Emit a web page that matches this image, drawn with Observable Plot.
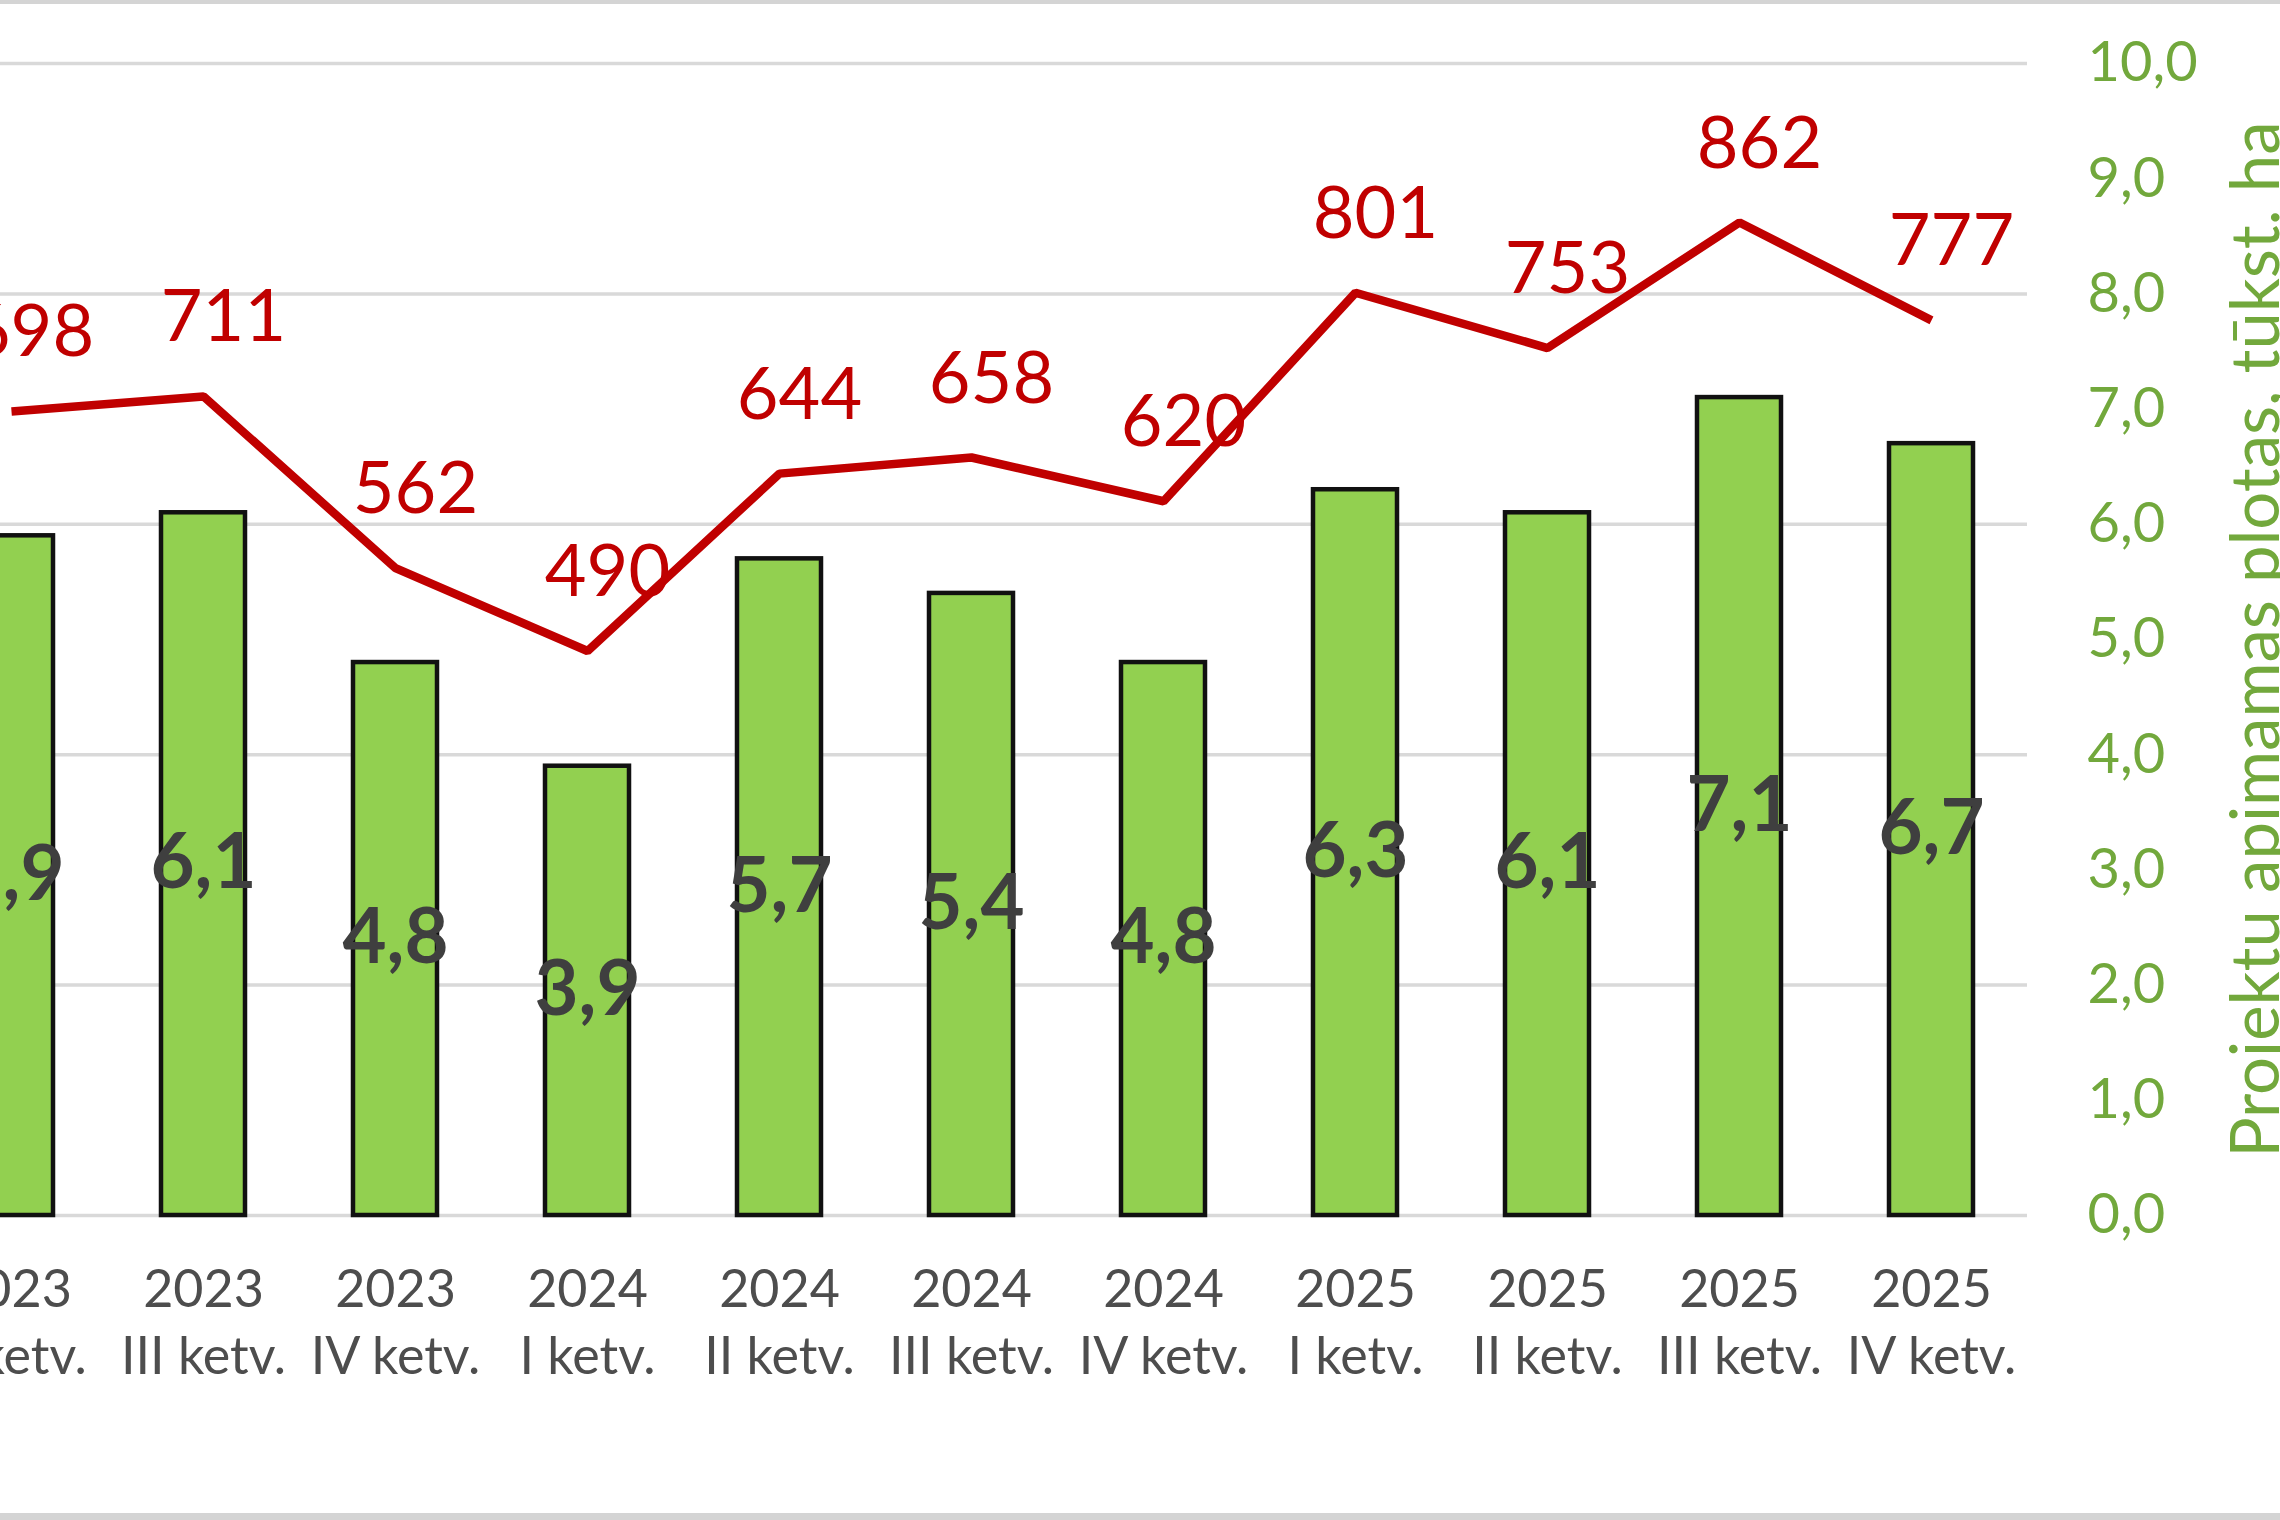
<!DOCTYPE html>
<html>
<head>
<meta charset="utf-8">
<script src="https://cdn.jsdelivr.net/npm/d3@7"></script>
<script src="https://cdn.jsdelivr.net/npm/@observablehq/plot@0.6"></script>
<style>
  html, body { margin: 0; padding: 0; background: #fff; }
  #chart {
    width: 2280px;
    border-top: 4px solid #d4d4d4;
    border-bottom: 7px solid #d4d4d4;
    overflow: hidden;
  }
  #chart svg { display: block; }
</style>
</head>
<body>
<div id="chart"></div>
<script>
// Quarterly projects: count (line, left scale 0–1000) and area in thousand ha (bars, right scale 0–10)
const years = ["2023", "2023", "2023", "2024", "2024", "2024", "2024", "2025", "2025", "2025", "2025"];
const quarters = ["II ketv.", "III ketv.", "IV ketv.", "I ketv.", "II ketv.", "III ketv.", "IV ketv.", "I ketv.", "II ketv.", "III ketv.", "IV ketv."];
const areaThousandHa = [5.9, 6.1, 4.8, 3.9, 5.7, 5.4, 4.8, 6.3, 6.1, 7.1, 6.7];
const projectCount = [698, 711, 562, 490, 644, 658, 620, 801, 753, 862, 777];
const areaTicks = [0, 1, 2, 3, 4, 5, 6, 7, 8, 9, 10];
const gridTicks = [0, 2, 4, 6, 8, 10];
const axisTitle = "Projektu apimamas plotas, tūkst. ha";

const rows = years.map((y, i) => ({
  period: `${y}\n${quarters[i]}`,
  area: areaThousandHa[i],
  count: projectCount[i]
}));

const comma = (v) => v.toFixed(1).replace(".", ",");
const font = "Lato, 'Open Sans', sans-serif";
const green = "#72a83c";
const red = "#c00000";

const chart = Plot.plot({
  width: 2280,
  height: 1509,
  marginTop: 59,
  marginBottom: 298,
  marginLeft: 0,
  marginRight: 253,
  style: { fontFamily: font, background: "#fff", overflow: "hidden" },
  x: {
    type: "band",
    domain: rows.map((d) => d.period),
    range: [-86, 2027],
    paddingInner: 0.563,
    paddingOuter: 0.28,
    axis: null
  },
  y: { domain: [0, 10], axis: null },
  marks: [
    Plot.gridY(gridTicks, { stroke: "#d9d9d9", strokeOpacity: 1, strokeWidth: 3.5 }),
    Plot.barY(rows, {
      x: "period",
      y: "area",
      fill: "#92d050",
      stroke: "#111",
      strokeWidth: 4.5
    }),
    Plot.text(rows, {
      x: "period",
      y: (d) => d.area / 2,
      text: (d) => comma(d.area),
      fill: "#3f3f3f",
      fontSize: 76,
      fontWeight: "bold"
    }),
    // project count drawn against the 0–1000 scale, which shares the 0–10 frame
    Plot.lineY(rows, {
      x: "period",
      y: (d) => d.count / 100,
      stroke: red,
      strokeWidth: 8.5,
      strokeLinejoin: "miter",
      strokeLinecap: "butt"
    }),
    Plot.text(rows, {
      x: "period",
      y: (d) => d.count / 100,
      text: (d) => String(d.count),
      fill: red,
      fontSize: 72,
      dx: 20,
      dy: -78
    }),
    Plot.axisX({
      anchor: "bottom",
      tickSize: 0,
      tickPadding: 43,
      fontSize: 52,
      lineHeight: 1.3,
      fill: "#4d4d4d",
      label: null
    }),
    Plot.axisY(areaTicks, {
      anchor: "right",
      tickSize: 0,
      tickPadding: 60,
      fontSize: 56,
      fill: green,
      tickFormat: comma,
      label: null
    }),
    Plot.text([axisTitle], {
      frameAnchor: "right",
      text: (d) => d,
      rotate: -90,
      dx: 251,
      textAnchor: "middle",
      lineAnchor: "bottom",
      fill: green,
      fontSize: 67
    })
  ]
});

document.getElementById("chart").appendChild(chart);
</script>
</body>
</html>
